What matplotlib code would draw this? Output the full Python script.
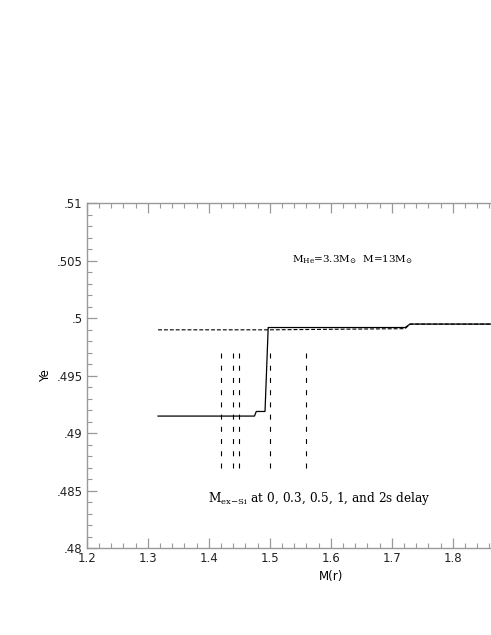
import numpy as np
import matplotlib.pyplot as plt
from matplotlib.ticker import MultipleLocator, FuncFormatter

plt.rcParams['mathtext.fontset'] = 'dejavuserif'

# solid curve
solid_m = [1.317, 1.475, 1.478, 1.4923, 1.4975, 1.50, 1.722, 1.730, 1.87]
solid_ye = [0.4915, 0.4915, 0.4919, 0.4919, 0.4992, 0.4992, 0.4992, 0.4995, 0.4995]

# dashed curve
dash_m = [1.317, 1.50, 1.722, 1.730, 1.87]
dash_ye = [0.4990, 0.4990, 0.4991, 0.4995, 0.4995]

# M_ex-Si marks (0, 0.3, 0.5, 1, 2 s delay)
mark_m = [1.42, 1.44, 1.45, 1.50, 1.56]
mark_lo, mark_hi = 0.487, 0.497

fig = plt.figure(figsize=(4.91, 6.35), dpi=100)
ax = fig.add_axes([0.1766, 0.1365, 0.9939, 0.5433])

ax.plot(solid_m, solid_ye, color='k', lw=0.9)
ax.plot(dash_m, dash_ye, color='k', lw=0.8, dashes=(3.5, 1.8))
for m in mark_m:
    ax.plot([m, m], [mark_lo, mark_hi], color='k', lw=0.8, dashes=(4.5, 6.5))

ax.set_xlim(1.2, 2.0)
ax.set_ylim(0.48, 0.51)
ax.xaxis.set_major_locator(MultipleLocator(0.1))
ax.xaxis.set_minor_locator(MultipleLocator(0.02))
ax.yaxis.set_major_locator(MultipleLocator(0.005))
ax.yaxis.set_minor_locator(MultipleLocator(0.001))

def yfmt(v, pos):
    s = ('%.3f' % v).rstrip('0').rstrip('.')
    return s.lstrip('0')

def xfmt(v, pos):
    # labels past the page edge are not shown
    if v > 1.85:
        return ''
    return '%.1f' % v

ax.yaxis.set_major_formatter(FuncFormatter(yfmt))
ax.xaxis.set_major_formatter(FuncFormatter(xfmt))

gc = '#999999'
for s in ax.spines.values():
    s.set_color(gc)
    s.set_linewidth(1.0)
ax.tick_params(which='both', direction='in', top=True, right=True,
               color=gc, labelsize=8.5, labelcolor='#222222', pad=3)
ax.tick_params(which='major', length=7, width=0.9)
ax.tick_params(which='minor', length=3.5, width=0.8)

ax.set_xlabel('M(r)', fontsize=8.5, labelpad=3)
ax.set_ylabel('Ye', fontsize=8.5, labelpad=3)

ax.text(1.635, 0.5051, r'M$_{\rm He}$=3.3M$_{\odot}$  M=13M$_{\odot}$',
        family='DejaVu Serif', fontsize=7.5, ha='center', va='center')
ax.text(1.582, 0.4843, r'M$_{\rm ex\!-\!Si}$ at 0, 0.3, 0.5, 1, and 2s delay',
        family='DejaVu Serif', fontsize=8.7, ha='center', va='center')

fig.savefig('out.png', dpi=100)
